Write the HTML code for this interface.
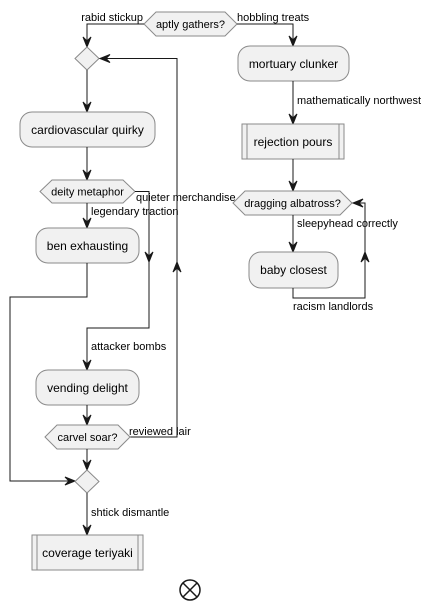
<!DOCTYPE html>
<html><head><meta charset="utf-8"><style>
html,body{margin:0;padding:0;background:#fff;}
svg{display:block;font-family:"Liberation Sans",sans-serif;}
.b{fill:#f1f1f1;stroke:#8a8a8a;stroke-width:1;}
.l{fill:none;stroke:#181818;stroke-width:1;}
.a{fill:#181818;stroke:#181818;stroke-width:1;}
.t{font-size:12px;fill:#000;}
.s{font-size:11px;fill:#000;}
</style></head><body>
<svg width="431" height="610" viewBox="0 0 431 610" xmlns="http://www.w3.org/2000/svg">
<defs>
<g id="ad"><polygon class="a" points="-4,-10 0,0 4,-10 0,-6"/></g>
<g id="au"><polygon class="a" points="-4,10 0,0 4,10 0,6"/></g>
<g id="al"><polygon class="a" points="10,-4 0,0 10,4 6,0"/></g>
<g id="ar"><polygon class="a" points="-10,-4 0,0 -10,4 -6,0"/></g>
</defs>

<polygon class="b" points="144,24 156,12 225,12 237,24 225,36 156,36"/>
<text class="t" x="190.5" y="28" text-anchor="middle" style="font-size:11px">aptly gathers?</text>
<polyline class="l" points="144,24 87,24 87,47"/>
<use href="#ad" x="87" y="47"/>
<text class="s" x="143" y="21" text-anchor="end">rabid stickup</text>
<polyline class="l" points="237,24 293,24 293,46"/>
<use href="#ad" x="293" y="46"/>
<text class="s" x="237" y="21">hobbling treats</text>

<polygon class="b" points="87,47 99,58.5 87,70 75,58.5"/>
<polyline class="l" points="130,437 177,437 177,58.5 100,58.5"/>
<use href="#al" x="100" y="58.5"/>
<use href="#au" x="177" y="262"/>
<line class="l" x1="87" y1="70" x2="87" y2="112"/>
<use href="#ad" x="87" y="112"/>

<rect class="b" x="20" y="112" width="135" height="35" rx="12"/>
<text class="t" x="87.5" y="134" text-anchor="middle">cardiovascular quirky</text>
<line class="l" x1="87" y1="147" x2="87" y2="180"/>
<use href="#ad" x="87" y="180"/>

<polygon class="b" points="40,191.5 52,180 123,180 135,191.5 123,203 52,203"/>
<text class="t" x="87.5" y="195.5" text-anchor="middle" style="font-size:11px">deity metaphor</text>
<polyline class="l" points="135,191.5 149,191.5 149,328 87,328 87,370"/>
<use href="#ad" x="149" y="262"/>
<use href="#ad" x="87" y="370"/>
<text class="s" x="136" y="201">quieter merchandise</text>
<line class="l" x1="87" y1="203" x2="87" y2="228"/>
<use href="#ad" x="87" y="228"/>
<text class="s" x="91" y="215">legendary traction</text>

<rect class="b" x="36" y="228" width="103" height="35" rx="12"/>
<text class="t" x="87.5" y="250" text-anchor="middle">ben exhausting</text>
<polyline class="l" points="87,263 87,297 10,297 10,481 75,481"/>
<use href="#ar" x="75" y="481"/>

<text class="s" x="91" y="350">attacker bombs</text>
<rect class="b" x="36" y="370" width="103" height="35" rx="12"/>
<text class="t" x="87.5" y="392" text-anchor="middle">vending delight</text>
<line class="l" x1="87" y1="405" x2="87" y2="425"/>
<use href="#ad" x="87" y="425"/>

<polygon class="b" points="45,437 57,425 118,425 130,437 118,449 57,449"/>
<text class="t" x="87.5" y="441" text-anchor="middle" style="font-size:11px">carvel soar?</text>
<text class="s" x="129" y="435">reviewed lair</text>
<line class="l" x1="87" y1="449" x2="87" y2="470"/>
<use href="#ad" x="87" y="470"/>

<polygon class="b" points="87,470 99,481.5 87,493 75,481.5"/>
<line class="l" x1="87" y1="493" x2="87" y2="535"/>
<use href="#ad" x="87" y="535"/>
<text class="s" x="91" y="516">shtick dismantle</text>

<rect class="b" x="32" y="535" width="111" height="35"/>
<line class="b" x1="37" y1="535" x2="37" y2="570"/>
<line class="b" x1="138" y1="535" x2="138" y2="570"/>
<text class="t" x="87.5" y="557" text-anchor="middle">coverage teriyaki</text>

<circle cx="190" cy="590" r="10" fill="#fff" stroke="#181818" stroke-width="1.5"/>
<line x1="183" y1="583" x2="197" y2="597" stroke="#181818" stroke-width="1.5"/>
<line x1="197" y1="583" x2="183" y2="597" stroke="#181818" stroke-width="1.5"/>

<rect class="b" x="238" y="46" width="111" height="35" rx="12"/>
<text class="t" x="293.5" y="68" text-anchor="middle">mortuary clunker</text>
<line class="l" x1="293" y1="81" x2="293" y2="124"/>
<use href="#ad" x="293" y="124"/>
<text class="s" x="297" y="104">mathematically northwest</text>

<rect class="b" x="242" y="124" width="102" height="35"/>
<line class="b" x1="247" y1="124" x2="247" y2="159"/>
<line class="b" x1="339" y1="124" x2="339" y2="159"/>
<text class="t" x="293" y="146" text-anchor="middle">rejection pours</text>
<line class="l" x1="293" y1="159" x2="293" y2="191"/>
<use href="#ad" x="293" y="191"/>

<polygon class="b" points="233,203 245,191 340,191 352,203 340,215 245,215"/>
<text class="t" x="292.5" y="207" text-anchor="middle" style="font-size:11px">dragging albatross?</text>
<line class="l" x1="293" y1="215" x2="293" y2="252"/>
<use href="#ad" x="293" y="252"/>
<text class="s" x="297" y="227">sleepyhead correctly</text>

<rect class="b" x="249" y="252" width="89" height="36" rx="12"/>
<text class="t" x="293.5" y="274" text-anchor="middle">baby closest</text>
<polyline class="l" points="293,288 293,298 365,298 365,203 353,203"/>
<use href="#al" x="353" y="203"/>
<use href="#au" x="365" y="252"/>
<text class="s" x="293" y="310">racism landlords</text>
</svg>
</body></html>
